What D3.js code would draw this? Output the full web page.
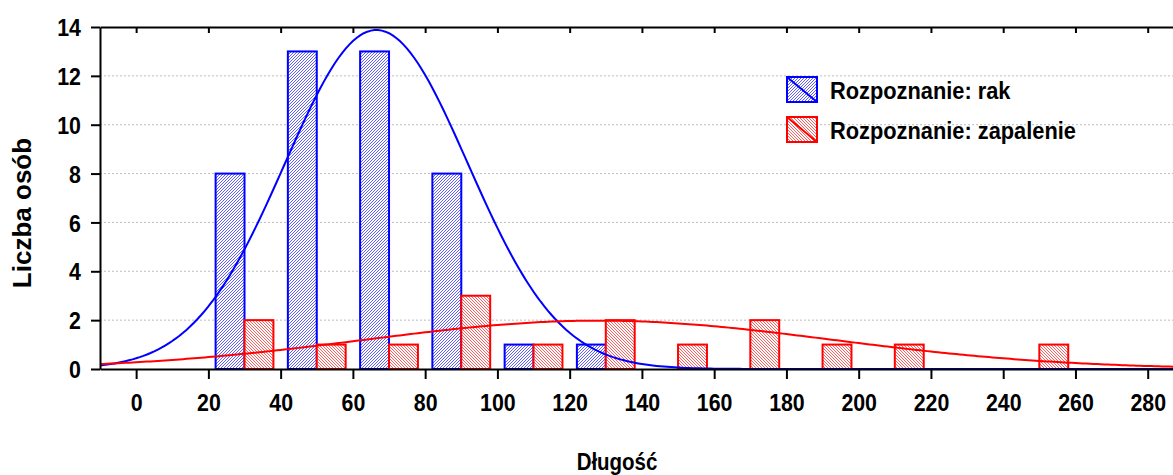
<!DOCTYPE html>
<html>
<head>
<meta charset="utf-8">
<script src="https://cdn.jsdelivr.net/npm/d3@7"></script>
<style>
  body { margin: 0; background: #fff; }
  svg { display: block; font-family: "Liberation Sans", Arial, sans-serif; font-weight: bold; }
</style>
</head>
<body>
<div id="chart"></div>
<script>
'use strict';

// histogram bins (lower edge), width 20
const binStarts = [0, 20, 40, 60, 80, 100, 120, 140, 160, 180, 200, 220, 240, 260, 280];
const rakCounts = [0, 8, 13, 13, 8, 1, 1, 0, 0, 0, 0, 0, 0, 0, 0];
const zapalenieCounts = [0, 2, 1, 1, 3, 1, 2, 1, 2, 1, 1, 0, 1, 0, 0];
const binWidth = 20;

// fitted normal curves: [mean, sd]
const rakFit = [66.5, 25.3];
const zapalenieFit = [128, 64.5];

const xTicks = [0, 20, 40, 60, 80, 100, 120, 140, 160, 180, 200, 220, 240, 260, 280];
const yTicks = [0, 2, 4, 6, 8, 10, 12, 14];
const seriesNames = ['Rozpoznanie: rak', 'Rozpoznanie: zapalenie'];
const colors = ['#0000ff', '#ff0000'];

const W = 1173, H = 475;
const margin = {top: 27, right: 0, bottom: 106, left: 100};
const innerW = W - margin.left - margin.right,
      innerH = H - margin.top - margin.bottom;
const sx = 0.89; // the original font is a bit narrow

const svg = d3.select('#chart').append('svg')
    .attr('width', W)
    .attr('height', H);

const defs = svg.append('defs');

// hatch fills
function hatch(id, color, dir) {
  const p = defs.append('pattern')
      .attr('id', id)
      .attr('patternUnits', 'userSpaceOnUse')
      .attr('width', 3)
      .attr('height', 3);
  p.append('rect').attr('width', 3).attr('height', 3).attr('fill', '#fff');
  const d = dir > 0
    ? 'M-1,1 l2,-2 M0,3 l3,-3 M2,4 l2,-2'
    : 'M-1,2 l2,2 M0,0 l3,3 M2,-1 l2,2';
  p.append('path')
      .attr('d', d)
      .attr('stroke', color)
      .attr('stroke-width', 0.9)
      .attr('opacity', 0.7);
}
hatch('hatchRak', colors[0], 1);
hatch('hatchZap', colors[1], -1);
const fills = ['url(#hatchRak)', 'url(#hatchZap)'];

defs.append('clipPath').attr('id', 'plotClip')
  .append('rect')
    .attr('width', innerW)
    .attr('height', innerH + 2)
    .attr('y', -1);

const g = svg.append('g')
    .attr('transform', `translate(${margin.left}, ${margin.top})`);

const x = d3.scaleLinear()
    .domain([-10, 287])
    .range([0, innerW]);

const y = d3.scaleLinear()
    .domain([0, 14])
    .range([innerH, 0]);

// grid
g.append('g')
    .selectAll('line')
    .data(yTicks.filter(d => d > 0 && d < 14))
  .enter().append('line')
    .attr('x1', 0)
    .attr('x2', innerW)
    .attr('y1', d => y(d))
    .attr('y2', d => y(d))
    .attr('stroke', '#bdbdbd')
    .attr('stroke-width', 1)
    .attr('stroke-dasharray', '2,2');

const plot = g.append('g').attr('clip-path', 'url(#plotClip)');

// axes lines (under zero-height bars)
const xAxis = d3.axisBottom(x).tickValues(xTicks).tickSize(10).tickPadding(15).tickSizeOuter(0);
const yAxis = d3.axisLeft(y).tickValues(yTicks).tickSize(9).tickPadding(10).tickSizeOuter(0);

const xg = g.append('g')
    .attr('class', 'x-axis')
    .attr('transform', `translate(0, ${innerH})`)
    .call(xAxis);

const topG = g.append('g')
    .call(d3.axisTop(x).tickValues(xTicks).tickSize(-6).tickSizeOuter(0).tickFormat(''));

const yg = g.append('g')
    .attr('class', 'y-axis')
    .call(yAxis);

[xg, yg, topG].forEach(a => {
  a.select('.domain').attr('stroke', '#000').attr('stroke-width', 2);
  a.selectAll('.tick line').attr('stroke', '#000').attr('stroke-width', 2);
  a.selectAll('.tick text')
      .attr('fill', '#000')
      .attr('font-size', 24)
      .attr('font-family', '"Liberation Sans", Arial, sans-serif')
      .attr('font-weight', 'bold')
      .attr('transform', `scale(${sx},1)`);
});
yg.selectAll('.tick text').attr('dy', '0.36em').attr('x', -19 / sx);

// bars
const bins = binStarts.map((b, i) => ({start: b, rak: rakCounts[i], zap: zapalenieCounts[i]}));

[['rak', 2, 10], ['zap', 10, 18]].forEach(([key, a, b], si) => {
  plot.selectAll(`.bar-${key}`)
      .data(bins)
    .enter().append('rect')
      .attr('class', `bar-${key}`)
      .attr('x', d => x(d.start + a))
      .attr('width', d => x(d.start + b) - x(d.start + a))
      .attr('y', d => y(d[key]))
      .attr('height', d => y(0) - y(d[key]))
      .attr('fill', fills[si])
      .attr('stroke', colors[si])
      .attr('stroke-opacity', d => d[key] === 0 ? 0.5 : 1)
      .attr('stroke-width', 2);
});

// fitted normal curves
function normal(fit, n) {
  const [m, s] = fit;
  return v => n * binWidth / (s * Math.sqrt(2 * Math.PI)) * Math.exp(-((v - m) ** 2) / (2 * s * s));
}
const xs = d3.range(-10, 288, 1);
const line = d3.line().x(d => x(d[0])).y(d => y(d[1]));

[[rakFit, d3.sum(rakCounts)], [zapalenieFit, d3.sum(zapalenieCounts)]].forEach(([fit, n], i) => {
  const f = normal(fit, n);
  plot.append('path')
      .datum(xs.map(v => [v, f(v)]))
      .attr('fill', 'none')
      .attr('stroke', colors[i])
      .attr('stroke-width', 2)
      .attr('d', line);
});

// legend
const legend = svg.append('g')
    .attr('transform', 'translate(787, 77)');

const items = legend.selectAll('g')
    .data(seriesNames)
  .enter().append('g')
    .attr('transform', (d, i) => `translate(0, ${i * 40})`);

items.append('rect')
    .attr('width', 30)
    .attr('height', 25)
    .attr('fill', (d, i) => fills[i])
    .attr('stroke', (d, i) => colors[i])
    .attr('stroke-width', 2);

items.append('line')
    .attr('x1', 0).attr('y1', 0)
    .attr('x2', 30).attr('y2', 25)
    .attr('stroke', (d, i) => colors[i])
    .attr('stroke-width', 2);

items.append('text')
    .attr('transform', `scale(${sx},1)`)
    .attr('x', 43 / sx)
    .attr('y', 13)
    .attr('dy', '0.36em')
    .attr('font-size', 24.5)
    .attr('fill', '#000')
    .text(d => d);

// axis titles
svg.append('text')
    .attr('transform', `translate(617, 470) scale(${sx},1)`)
    .attr('text-anchor', 'middle')
    .attr('font-size', 23)
    .attr('fill', '#000')
    .text('Długość');

svg.append('text')
    .attr('transform', 'translate(31, 213) rotate(-90)')
    .attr('text-anchor', 'middle')
    .attr('font-size', 26)
    .attr('fill', '#000')
    .text('Liczba osób');
</script>
</body>
</html>
